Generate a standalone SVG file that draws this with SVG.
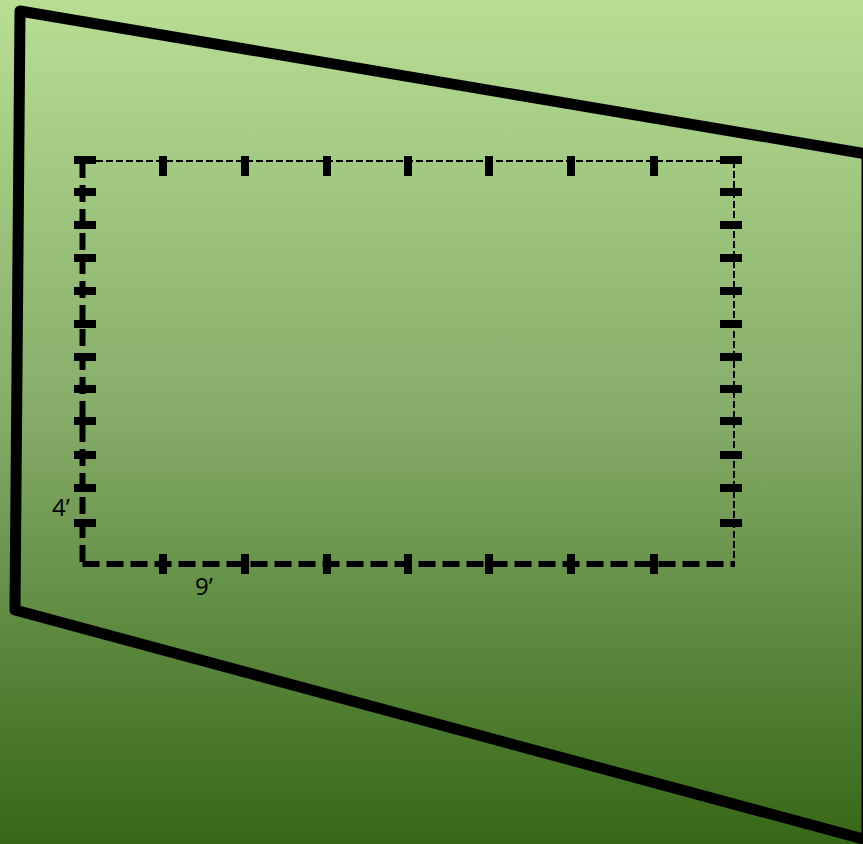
<svg xmlns="http://www.w3.org/2000/svg" width="863" height="844" viewBox="0 0 863 844">
<defs>
<linearGradient id="bg" x1="0" y1="0" x2="0" y2="1">
<stop offset="0" stop-color="#b7de93"/>
<stop offset="0.5" stop-color="#84ab68"/>
<stop offset="1" stop-color="#366716"/>
</linearGradient>
</defs>
<style>
.thick{stroke:#000;stroke-width:6;fill:none;stroke-dasharray:17 7}
.thin{stroke:#000;stroke-width:2;fill:none;stroke-dasharray:7 3}
.bar{fill:#000}
.lbl{font-family:"Open Sans","DejaVu Sans",sans-serif;font-size:24px;fill:#000}
</style>
<rect width="863" height="844" fill="url(#bg)"/>
<g id="boundary">
<polygon points="20,11 867,154 867,840 15,610" fill="none" stroke="#000" stroke-width="11" stroke-linejoin="round"/>
</g>
<g id="connectors">
<line class="thin" x1="96" y1="161" x2="734" y2="161"/>
<line class="thin" x1="734" y1="161" x2="734" y2="563"/>
<line class="thick" x1="82.5" y1="161" x2="82.5" y2="564"/>
<line class="thick" x1="82.5" y1="564" x2="735" y2="564"/>
</g>
<g id="ticks-left">
<rect class="bar" x="74" y="156" width="22" height="8"/>
<rect class="bar" x="74" y="188" width="22" height="8"/>
<rect class="bar" x="74" y="221" width="22" height="8"/>
<rect class="bar" x="74" y="254" width="22" height="8"/>
<rect class="bar" x="74" y="287" width="22" height="8"/>
<rect class="bar" x="74" y="320" width="22" height="8"/>
<rect class="bar" x="74" y="353" width="22" height="8"/>
<rect class="bar" x="74" y="385" width="22" height="8"/>
<rect class="bar" x="74" y="417" width="22" height="8"/>
<rect class="bar" x="74" y="451" width="22" height="8"/>
<rect class="bar" x="74" y="484" width="22" height="8"/>
<rect class="bar" x="74" y="519" width="22" height="8"/>
</g>
<g id="ticks-right">
<rect class="bar" x="720" y="156" width="22" height="8"/>
<rect class="bar" x="720" y="188" width="22" height="8"/>
<rect class="bar" x="720" y="221" width="22" height="8"/>
<rect class="bar" x="720" y="254" width="22" height="8"/>
<rect class="bar" x="720" y="287" width="22" height="8"/>
<rect class="bar" x="720" y="320" width="22" height="8"/>
<rect class="bar" x="720" y="353" width="22" height="8"/>
<rect class="bar" x="720" y="385" width="22" height="8"/>
<rect class="bar" x="720" y="417" width="22" height="8"/>
<rect class="bar" x="720" y="451" width="22" height="8"/>
<rect class="bar" x="720" y="484" width="22" height="8"/>
<rect class="bar" x="720" y="519" width="22" height="8"/>
</g>
<g id="ticks-top">
<rect class="bar" x="159" y="156" width="8" height="20"/>
<rect class="bar" x="241" y="156" width="8" height="20"/>
<rect class="bar" x="323" y="156" width="8" height="20"/>
<rect class="bar" x="404" y="156" width="8" height="20"/>
<rect class="bar" x="485" y="156" width="8" height="20"/>
<rect class="bar" x="567" y="156" width="8" height="20"/>
<rect class="bar" x="650" y="156" width="8" height="20"/>
</g>
<g id="ticks-bottom">
<rect class="bar" x="159" y="554" width="8" height="20"/>
<rect class="bar" x="241" y="554" width="8" height="20"/>
<rect class="bar" x="323" y="554" width="8" height="20"/>
<rect class="bar" x="404" y="554" width="8" height="20"/>
<rect class="bar" x="485" y="554" width="8" height="20"/>
<rect class="bar" x="567" y="554" width="8" height="20"/>
<rect class="bar" x="650" y="554" width="8" height="20"/>
</g>
<g id="labels">
<text class="lbl" x="52" y="516">4’</text>
<text class="lbl" x="195" y="595">9’</text>
</g>
</svg>
